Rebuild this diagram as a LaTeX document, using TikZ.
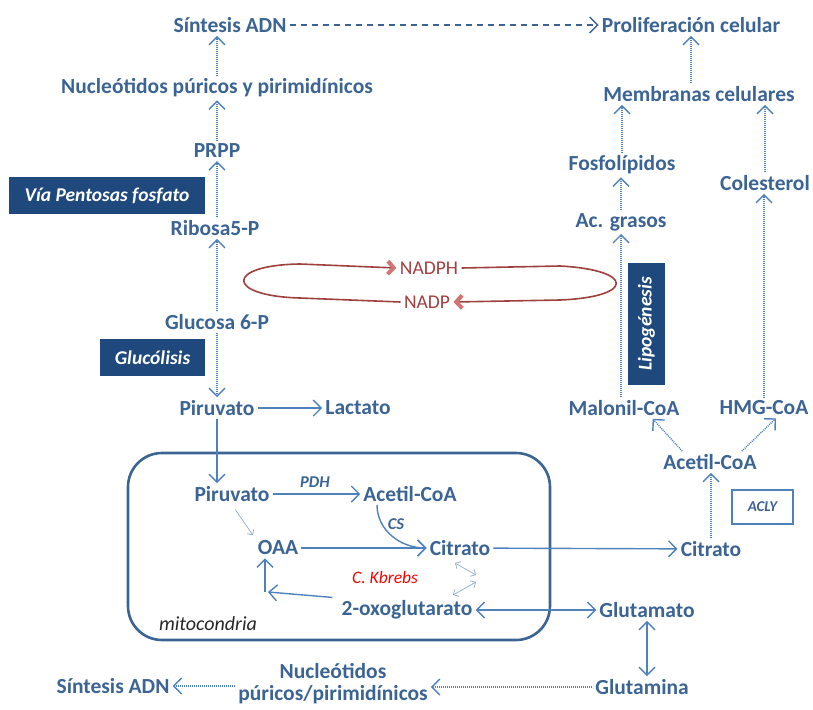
\documentclass[tikz,border=0pt]{standalone}
\usepackage{fontspec}
\setmainfont{Carlito}
\usepackage{xcolor}
\usepackage{tikz}
\usetikzlibrary{arrows.meta}

\definecolor{azulTexto}{HTML}{3B6494}
\definecolor{azulFlecha}{HTML}{4F81BD}
\definecolor{azulCaja}{HTML}{1F497D}
\definecolor{azulClaro}{HTML}{8FAAD2}
\definecolor{rojoLazo}{HTML}{A0403E}
\definecolor{rosaPunta}{HTML}{D07573}

\begin{document}
\begin{tikzpicture}[x=1pt, y=-1pt,
	main/.style={text=azulTexto, font=\bfseries\fontsize{21.5}{22}\selectfont, inner sep=3pt},
	caja/.style={fill=azulCaja, text=white, font=\bfseries\itshape\fontsize{19.5}{19.5}\selectfont, inner sep=0pt},
	enz/.style={text=azulTexto, font=\bfseries\itshape\fontsize{16.5}{16.5}\selectfont},
	flecha/.style={draw=azulFlecha, line width=1.4pt, -{Straight Barb[length=8pt,width=16pt]}},
	doble/.style={flecha, {Straight Barb[length=8pt,width=16pt]}-{Straight Barb[length=8pt,width=16pt]}},
	punteada/.style={flecha, dash pattern=on 1pt off 1pt},
	fina/.style={draw=azulClaro, line width=0.7pt, -{Straight Barb[length=4pt,width=8pt]}},
	lazo/.style={draw=rojoLazo, line width=1.6pt, -{Straight Barb[length=6pt,width=13pt,line width=4pt,color=rosaPunta]}}]
								\useasboundingbox (0,0) rectangle (813,709);
								
								%Nodos
								\node[main] (1) at (230,25) {Síntesis ADN};
								\node[main] (2) at (691,25) {Proliferación celular};
								\node[main] (3) at (217,88) {Nucleótidos púricos y pirimidínicos};
								\node[main] (4) at (217,151) {PRPP};
								\node[main] (5) at (215,228) {Ribosa5-P};
								\node[main] (6) at (217,322) {Glucosa 6-P};
								\node[main] (7) at (217,408) {Piruvato};
								\node[main] (8) at (358,408) {Lactato};
								\node[main] (9) at (232,494) {Piruvato};
								\node[main] (10) at (410,494) {Acetil-CoA};
								\node[main] (11) at (278,548) {OAA};
								\node[main] (12) at (460,548) {Citrato};
								\node[main] (13) at (407,610) {2-oxoglutarato};
								\node[main] (14) at (711,549) {Citrato};
								\node[main] (15) at (647,610) {Glutamato};
								\node[main] (16) at (642,687) {Glutamina};
								\node[main, align=center] (17) at (333,684) {Nucleótidos\\púricos/pirimidínicos};
								\node[main] (18) at (113,686) {Síntesis ADN};
								\node[main] (19) at (710,462) {Acetil-CoA};
								\node[main] (20) at (624,408) {Malonil-CoA};
								\node[main] (21) at (764,408) {HMG-CoA};
								\node[main] (22) at (621,222) {Ac. grasos};
								\node[main] (23) at (622,165) {Fosfolípidos};
								\node[main] (24) at (699,94) {Membranas celulares};
								\node[main] (25) at (765,183) {Colesterol};
								\node[text=rojoLazo, font=\fontsize{19.5}{19.5}\selectfont] (26) at (429,268) {NADPH};
								\node[text=rojoLazo, font=\fontsize{19.5}{19.5}\selectfont] (27) at (427,302) {NADP};
								
								%Cajas y rótulos
								\node[caja, minimum width=196, minimum height=37] (a) at (107,195.5) {Vía Pentosas fosfato};
								\node[caja, minimum width=105, minimum height=37] (b) at (152.5,357.5) {Glucólisis};
								\node[caja, rotate=90, minimum width=122, minimum height=37] (c) at (646.5,324) {Lipogénesis};
								\node[draw=azulFlecha, line width=1.3pt, text=azulTexto, font=\bfseries\itshape\fontsize{15}{15}\selectfont, minimum width=61, minimum height=34] (d) at (762.5,507) {ACLY};
								\node[enz] (e) at (315,482) {PDH};
								\node[enz] (f) at (396,524) {CS};
								\node[text=red, font=\itshape\fontsize{17.5}{17.5}\selectfont] (g) at (385,577) {C. Kbrebs};
								\node[text=black!85, font=\itshape\fontsize{20}{20}\selectfont] (h) at (208,624) {mitocondria};
								\draw[draw=azulTexto, line width=2.6pt, rounded corners=34pt] (128,453) rectangle (550,640);
								
								\coordinate (k1) at (455,563);
								\coordinate (k2) at (476,575);
								\coordinate (k3) at (476,582);
								\coordinate (k4) at (453,595);
								\coordinate (r) at (268,592);
								
								%Flechas
								\draw[flecha, draw=azulTexto, dash pattern=on 6pt off 5pt] (1) -- (2);
								\draw[punteada] (3) -- (3 |- 1.south);
								\draw[punteada] (4) -- (3);
								\draw[punteada] (4 |- 5.north) -- (4);
								\draw[punteada] (6) -- (6 |- 5.south);
								\draw[punteada] (6) -- (7);
								\draw[flecha] (7) -- (8);
								\draw[flecha] (7) -- (7 |- 9.north);
								\draw[flecha] (9) -- (10);
								\draw[fina, shorten <=6pt, shorten >=3pt] (9.south) -- (11.north west);
								\draw[flecha] ([xshift=-33pt]10.south) to[out=-90, in=180] (12.west);
								\draw[flecha] (11) -- (12);
								\draw[flecha] (12) -- (14);
								\draw[fina, {Straight Barb[length=4pt,width=8pt]}-{Straight Barb[length=4pt,width=8pt]}] (k1) -- (k2);
								\draw[fina, {Straight Barb[length=4pt,width=8pt]}-{Straight Barb[length=4pt,width=8pt]}] (k3) -- (k4);
								\draw[flecha] ([xshift=-6pt]13.north west) -- (r);
								\draw[flecha] ([xshift=-3pt]r) -- ([xshift=-3pt]r |- 11.south);
								\draw[doble] (13) -- (15);
								\draw[doble] (15) -- (15 |- 16.north);
								\draw[punteada] (16) -- (16 -| 17.east);
								\draw[punteada] (17.west |- 18) -- (18);
								\draw[punteada] (14) -- (14 |- 19.south);
								\draw[punteada] ([xshift=22pt]19.north west) -- ([xshift=-30pt]20.south east);
								\draw[punteada] ([xshift=-18pt]19.north east) -- ([xshift=12pt]21.south);
								\draw[punteada] (22 |- 20.north) -- (22);
								\draw[punteada] (21) -- (21 |- 25.south);
								\draw[punteada] (22) -- (22 |- 23.south);
								\draw[punteada] (23) -- (23 |- 24.south);
								\draw[punteada] (25) -- (25 |- 24.south);
								\draw[punteada] (2 |- 24.north) -- (2);
								
								%Lazo NADPH / NADP
								\draw[lazo] (27.west) -- (300,298) .. controls (225,296) and (225,265) .. (300,264) -- (26.west);
								\draw[lazo] (26.east) -- (560,266) .. controls (635,270) and (635,297) .. (560,300) -- (27.east);
							\end{tikzpicture}
\end{document}
